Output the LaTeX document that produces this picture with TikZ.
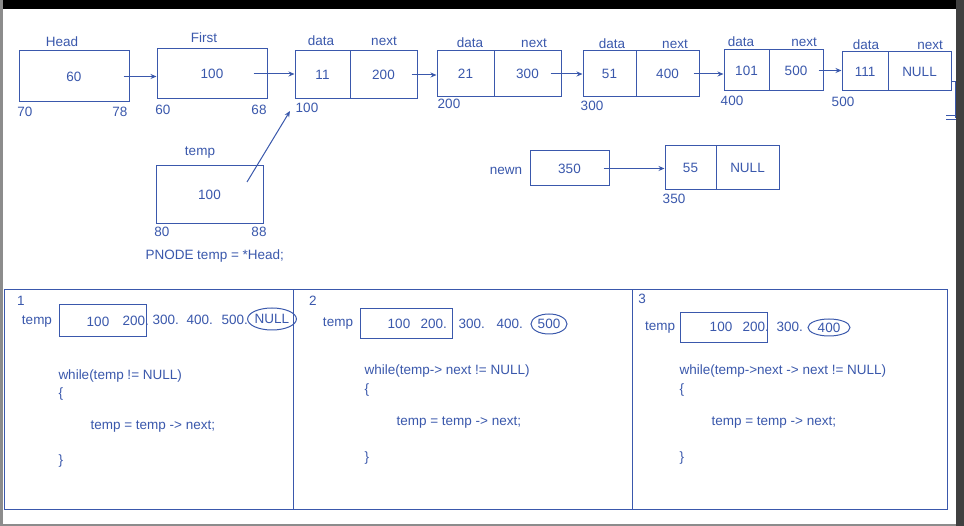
\documentclass[tikz,border=0pt]{standalone}
\usepackage{fontspec}
\setmainfont{Liberation Sans}
\usetikzlibrary{arrows.meta,shapes.geometric}
\definecolor{ink}{RGB}{58,88,172}

\begin{document}
\begin{tikzpicture}
      [x=1pt,y=-1pt,line width=1pt,ink,
      font=\fontsize{13.5}{16}\selectfont,
      box/.style={draw,rectangle,inner sep=0pt},
      lbl/.style={inner sep=0pt},
      code/.style={inner sep=0pt,anchor=west},
      ring/.style={draw,ellipse,inner sep=0pt},
      arr/.style={-{Stealth[length=6pt,width=5pt]}}]
      \useasboundingbox (0,0) rectangle (964,526);
      \fill[white] (0,0) rectangle (964,526);
      \fill[black] (0,0) rectangle (964,9);
      \fill[black!45] (0,0) rectangle (2.5,526);
      \fill[black!45] (0,524) rectangle (964,526);
      % pointers
      \node[box,minimum width=110pt,minimum height=51pt] (h) at (74,76.5) {60};
      \node[box,minimum width=110pt,minimum height=50pt] (f) at (212,74) {100};
      \node[lbl] (hl) at (62,42) {Head};
      \node[lbl] (fl) at (204,38) {First};
      \node[lbl] (ha) at (25,112) {70};
      \node[lbl] (hb) at (120,112) {78};
      \node[lbl] (fa) at (163,110) {60};
      \node[lbl] (fb) at (259,110) {68};
      % list
      \node[box,minimum width=55pt,minimum height=48pt] (d1) at (322.5,75) {11};
      \node[box,minimum width=67pt,minimum height=48pt] (p1) at (383.5,75) {200};
      \node[box,minimum width=57pt,minimum height=46pt] (d2) at (465.5,74) {21};
      \node[box,minimum width=67pt,minimum height=46pt] (p2) at (527.5,74) {300};
      \node[box,minimum width=53pt,minimum height=46pt] (d3) at (609.5,74) {51};
      \node[box,minimum width=63pt,minimum height=46pt] (p3) at (667.5,74) {400};
      \node[box,minimum width=45pt,minimum height=41pt] (d4) at (746.5,70.5) {101};
      \node[box,minimum width=54pt,minimum height=41pt] (p4) at (796,70.5) {500};
      \node[box,minimum width=46pt,minimum height=39pt] (d5) at (865,71.5) {111};
      \node[box,minimum width=63pt,minimum height=39pt] (p5) at (919.5,71.5) {NULL};
      \node[lbl] (dl1) at (321,41) {data};
      \node[lbl] (nl1) at (384,41) {next};
      \node[lbl] (dl2) at (470,43) {data};
      \node[lbl] (nl2) at (534,43) {next};
      \node[lbl] (dl3) at (612,44) {data};
      \node[lbl] (nl3) at (675,44) {next};
      \node[lbl] (dl4) at (741,42) {data};
      \node[lbl] (nl4) at (804,42) {next};
      \node[lbl] (dl5) at (866,45) {data};
      \node[lbl] (nl5) at (930,45) {next};
      \node[lbl] (a1) at (307,108) {100};
      \node[lbl] (a2) at (449,104) {200};
      \node[lbl] (a3) at (592,106) {300};
      \node[lbl] (a4) at (732,101) {400};
      \node[lbl] (a5) at (843,102) {500};
      \draw[arr] ([xshift=-6pt]h.east) -- (h.east -| f.west);
      \draw[arr] ([xshift=-14pt]f.east) -- (f.east -| d1.west);
      \draw[arr] ([xshift=-6pt]p1.east) -- (p1.east -| d2.west);
      \draw[arr] ([xshift=-11pt]p2.east) -- (p2.east -| d3.west);
      \draw[arr] ([xshift=-6pt]p3.east) -- (p3.east -| d4.west);
      \draw[arr] ([xshift=-5pt]p4.east) -- (p4.east -| d5.west);
      \draw ([yshift=-10.5pt]p5.east) -- ++(4,0) -- ++(0,36);
      \draw (946,116) -- (958,116);
      \draw (946,120) -- (958,120);
      % temp
      \node[box,minimum width=107pt,minimum height=58pt] (t) at (209.5,195) {100};
      \node[lbl] (tl) at (200,153) {temp};
      \node[lbl] (ta) at (162,232) {80};
      \node[lbl] (tb) at (259,232) {88};
      \node[code] (tc) at (145,256) {PNODE temp = *Head;};
      \coordinate (tp) at (247,182);
      \coordinate (tq) at (290,111);
      \draw[arr] (tp) -- (tq);
      % new node
      \node[lbl] (nwl) at (506,171) {newn};
      \node[box,minimum width=79pt,minimum height=35pt] (nw) at (569.5,168.5) {350};
      \node[box,minimum width=51pt,minimum height=44pt] (nd) at (690.5,168) {55};
      \node[box,minimum width=63pt,minimum height=44pt] (np) at (747.5,168) {NULL};
      \node[lbl] (na) at (674,199) {350};
      \draw[arr] ([xshift=-6pt]nw.east) -- (nw.east -| nd.west);
      % panels
      \node[box,minimum width=289pt,minimum height=219pt] (pa) at (148.5,399.5) {};
      \node[box,minimum width=339pt,minimum height=219pt] (pb) at (462.5,399.5) {};
      \node[box,minimum width=315pt,minimum height=219pt] (pc) at (789.5,399.5) {};
      % panel 1
      \node[lbl] (n1) at (21,301) {1};
      \node[lbl] (s1) at (37,322) {temp};
      \node[box,minimum width=87pt,minimum height=32pt] (b1) at (102.5,321) {};
      \node[lbl] (v11) at (98,322) {100};
      \node[code] (v12) at (122,321) {200.};
      \node[code] (v13) at (152,320) {300.};
      \node[code] (v14) at (186,320) {400.};
      \node[code] (v15) at (221,320) {500.};
      \node[ring,minimum width=46pt,minimum height=22pt] (e1) at (272,319) {NULL};
      \node[code] (c11) at (58,376) {while(temp != NULL)};
      \node[code] (c12) at (58,394) {\{};
      \node[code] (c13) at (90,427) {temp = temp -> next;};
      \node[code] (c14) at (58,461) {\}};
      % panel 2
      \node[lbl] (n2) at (313,301) {2};
      \node[lbl] (s2) at (338,324) {temp};
      \node[box,minimum width=92pt,minimum height=30pt] (b2) at (406,324) {};
      \node[lbl] (v21) at (399,324) {100};
      \node[code] (v22) at (420,324) {200.};
      \node[code] (v23) at (458,324) {300.};
      \node[code] (v24) at (496,324) {400.};
      \node[ring,minimum width=36pt,minimum height=20pt] (e2) at (549,324) {500};
      \node[code] (c21) at (364,371) {while(temp-> next != NULL)};
      \node[code] (c22) at (364,390) {\{};
      \node[code] (c23) at (396,423) {temp = temp -> next;};
      \node[code] (c24) at (364,458) {\}};
      % panel 3
      \node[lbl] (n3) at (642,299) {3};
      \node[lbl] (s3) at (660,328) {temp};
      \node[box,minimum width=87pt,minimum height=30pt] (b3) at (723.5,328) {};
      \node[lbl] (v31) at (721,327) {100};
      \node[code] (v32) at (742,327) {200.};
      \node[code] (v33) at (776,327) {300.};
      \node[ring,minimum width=42pt,minimum height=17pt] (e3) at (829,327.5) {400};
      \node[code] (c31) at (679,371) {while(temp->next -> next != NULL)};
      \node[code] (c32) at (679,390) {\{};
      \node[code] (c33) at (711,423) {temp = temp -> next;};
      \node[code] (c34) at (679,458) {\}};
      \fill[black!75] (956,0) rectangle (964,526);
    \end{tikzpicture}
\end{document}
